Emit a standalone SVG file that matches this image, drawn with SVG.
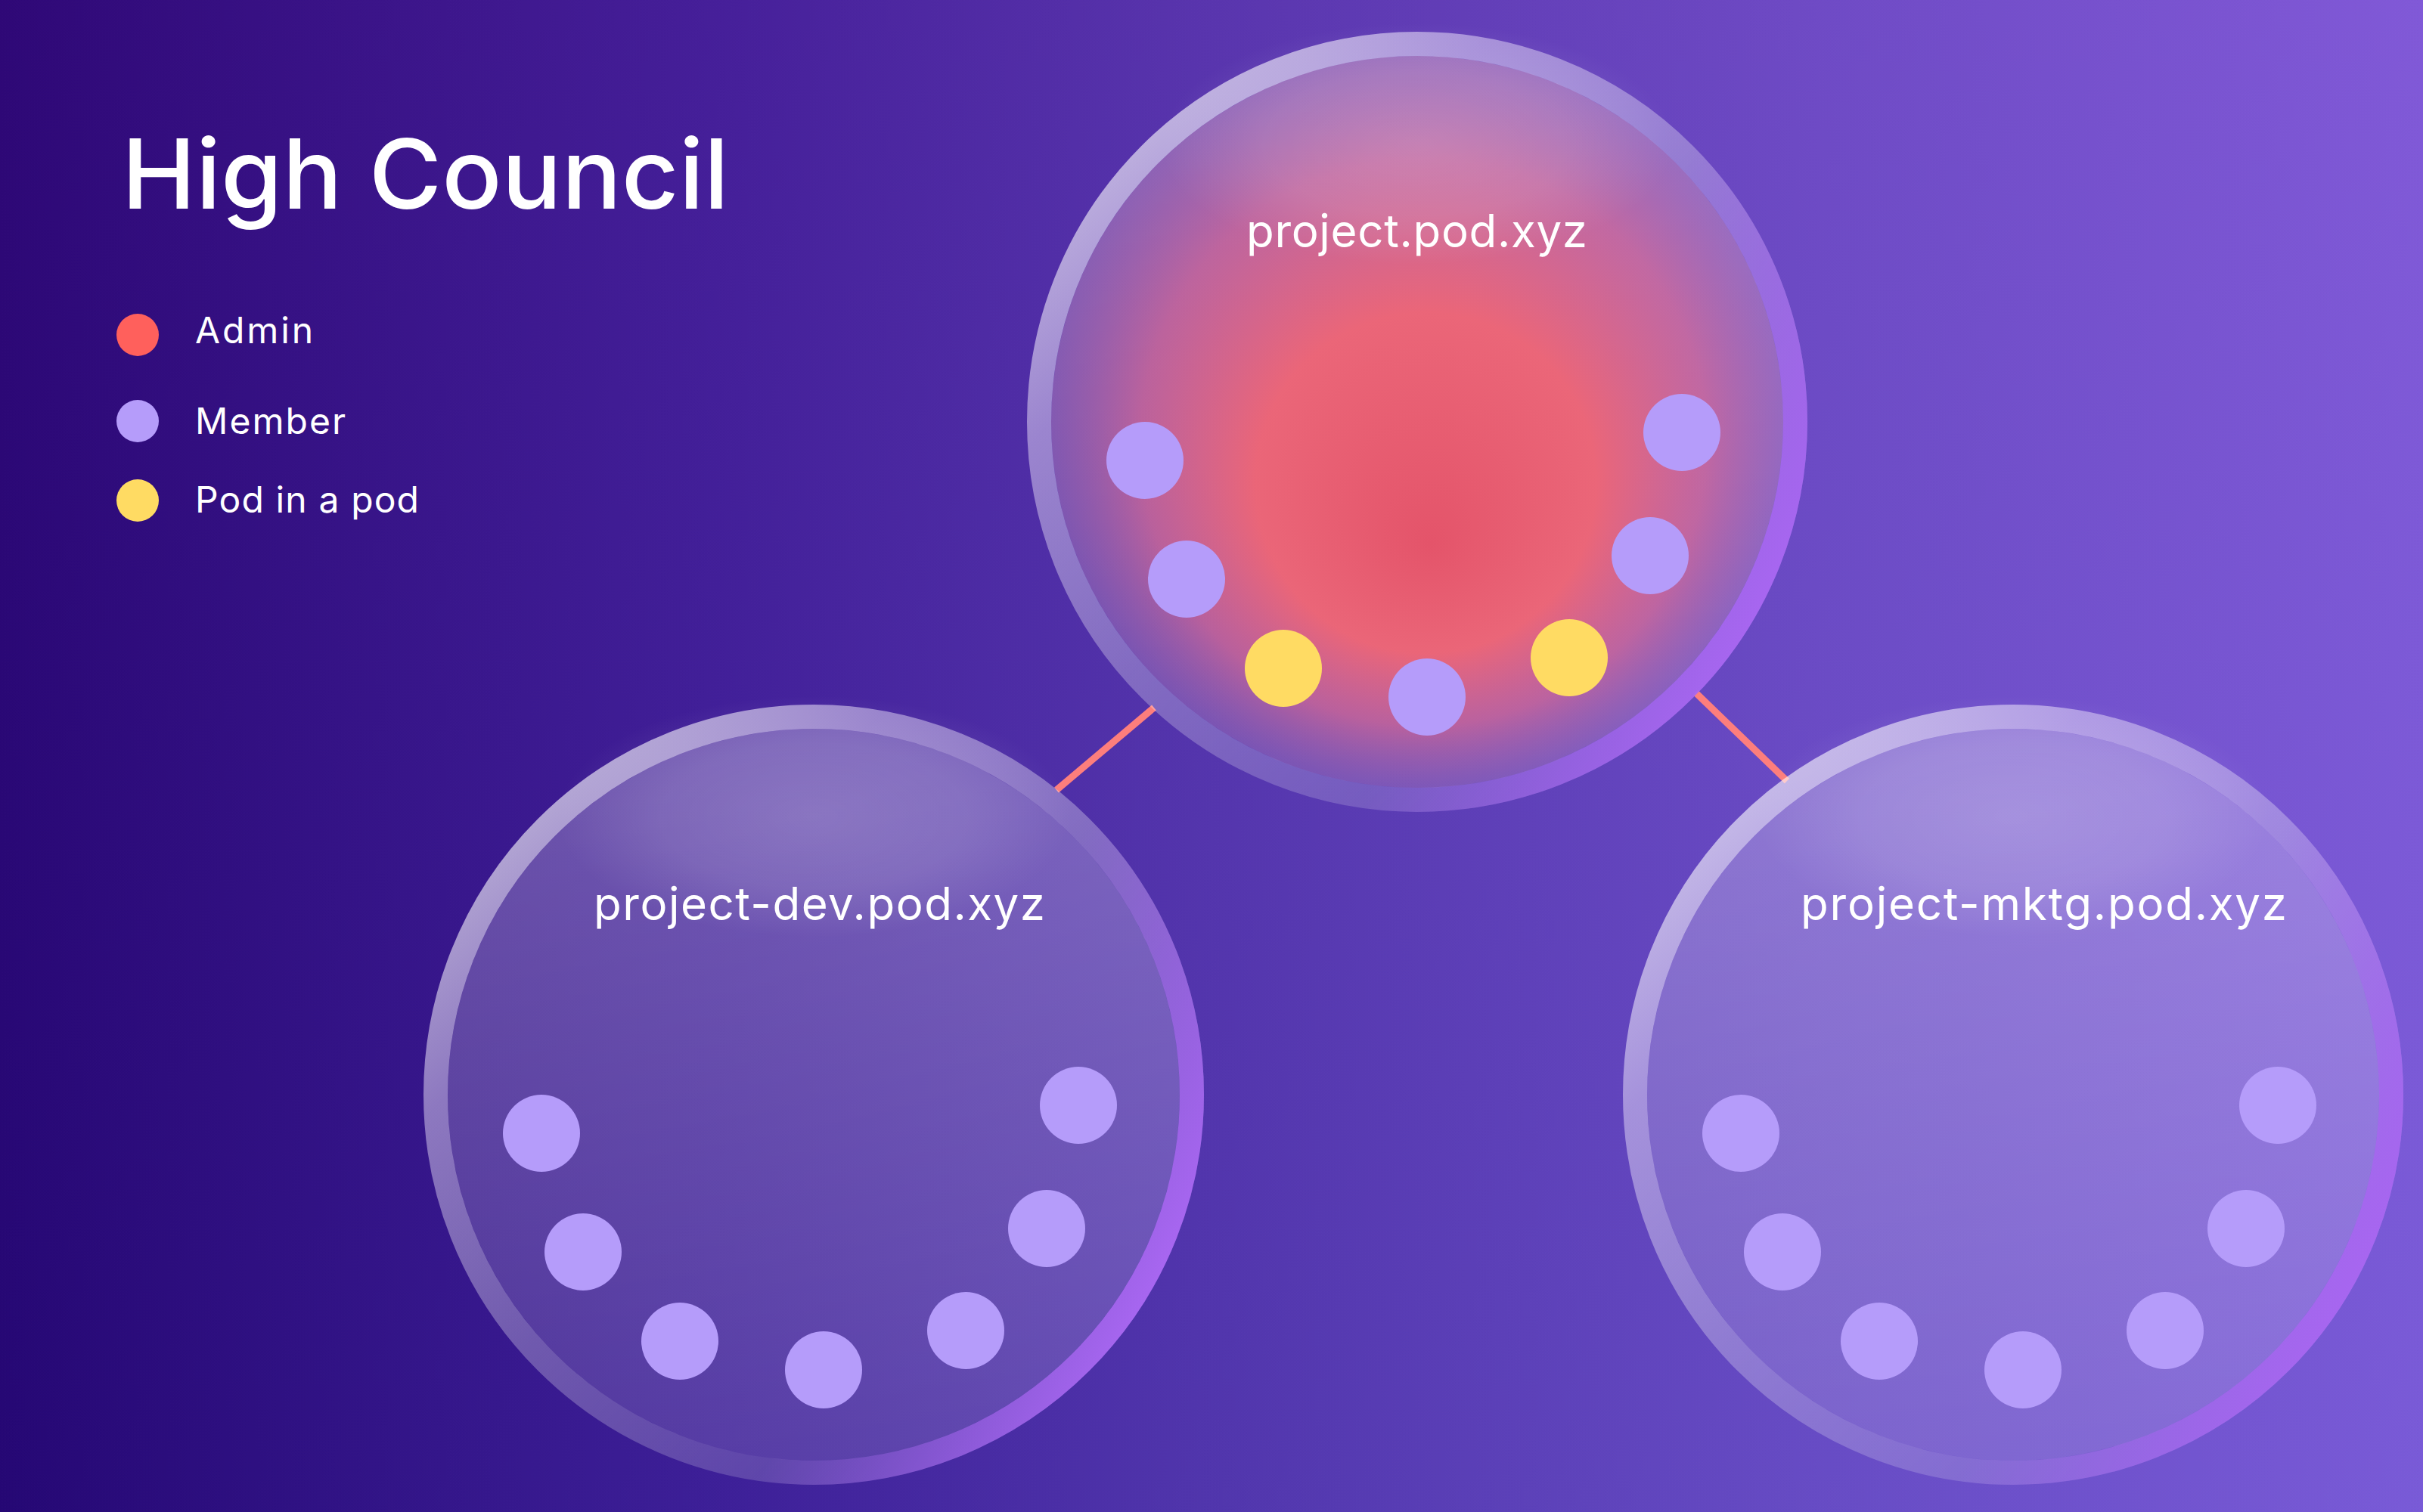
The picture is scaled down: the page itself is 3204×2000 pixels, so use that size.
<svg xmlns="http://www.w3.org/2000/svg" width="3204" height="2000" viewBox="0 0 3204 2000">
  <defs>
    <linearGradient id="bg" x1="0" y1="0" x2="1" y2="0">
      <stop offset="0" stop-color="#23006b"/>
      <stop offset="0.3" stop-color="#3d1a92"/>
      <stop offset="0.5" stop-color="#5232a8"/>
      <stop offset="0.75" stop-color="#6a4ac2"/>
      <stop offset="1" stop-color="#7e5ad6"/>
    </linearGradient>
    <linearGradient id="bgShade" x1="0" y1="0" x2="0" y2="1">
      <stop offset="0" stop-color="#9a50e0" stop-opacity="0.10"/>
      <stop offset="1" stop-color="#4060e0" stop-opacity="0.08"/>
    </linearGradient>
    <linearGradient id="podFill" x1="0" y1="0" x2="0" y2="1">
      <stop offset="0" stop-color="#ffffff" stop-opacity="0.26"/>
      <stop offset="1" stop-color="#ffffff" stop-opacity="0.13"/>
    </linearGradient>
    <radialGradient id="hl" cx="0.5" cy="0.5" r="0.5">
      <stop offset="0" stop-color="#ffffff" stop-opacity="0.17"/>
      <stop offset="0.6" stop-color="#ffffff" stop-opacity="0.11"/>
      <stop offset="1" stop-color="#ffffff" stop-opacity="0"/>
    </radialGradient>
    <radialGradient id="red" gradientUnits="userSpaceOnUse" cx="1880" cy="540" r="500" fx="1890" fy="720">
      <stop offset="0" stop-color="#e4546a"/>
      <stop offset="0.45" stop-color="#ee6676" stop-opacity="0.97"/>
      <stop offset="0.75" stop-color="#e0668c" stop-opacity="0.65"/>
      <stop offset="1" stop-color="#b060a0" stop-opacity="0.22"/>
    </radialGradient>
    <linearGradient id="ringWhite" x1="0.15" y1="0.1" x2="0.85" y2="0.9">
      <stop offset="0" stop-color="#ffffff" stop-opacity="0.62"/>
      <stop offset="0.2" stop-color="#f4ecff" stop-opacity="0.46"/>
      <stop offset="0.5" stop-color="#ffffff" stop-opacity="0.28"/>
      <stop offset="1" stop-color="#ffffff" stop-opacity="0.1"/>
    </linearGradient>
    <linearGradient id="ringPurple" x1="0.3" y1="0.3" x2="1" y2="0.65">
      <stop offset="0" stop-color="#a766f0" stop-opacity="0"/>
      <stop offset="0.55" stop-color="#a766f0" stop-opacity="0"/>
      <stop offset="1" stop-color="#a766f0" stop-opacity="1"/>
    </linearGradient>
  </defs>
  <style>
    .txt { font-family: Inter, "Noto Sans", "Liberation Sans", sans-serif; fill: #ffffff; }
    .title { font-size: 128px; font-weight: 500; }
    .legend { font-size: 48px; font-weight: 400; }
    .label { font-size: 60px; font-weight: 400; }
    .fill { fill: url(#podFill); }
    .hl { fill: url(#hl); }
    .ringW { fill: none; stroke: url(#ringWhite); stroke-width: 32; }
    .ringP { fill: none; stroke: url(#ringPurple); stroke-width: 32; }
    .member { fill: #b59cfa; }
    .pod { fill: #ffdb63; }
    .admin { fill: #ff605c; }
    .conn { stroke: #fd7e7c; stroke-width: 9; fill: none; }
  </style>

  <rect x="0" y="0" width="3204" height="2000" fill="url(#bg)"/>
  <rect x="0" y="0" width="3204" height="2000" fill="url(#bgShade)"/>

  <g id="title">
    <text class="txt title" x="161" y="276" textLength="803" lengthAdjust="spacingAndGlyphs">High Council</text>
  </g>

  <g id="legend">
    <circle class="admin" cx="182" cy="443" r="28"/>
    <text class="txt legend" x="258" y="454" textLength="156" lengthAdjust="spacing">Admin</text>
    <circle class="member" cx="182" cy="557" r="28"/>
    <text class="txt legend" x="258" y="574" textLength="199" lengthAdjust="spacing">Member</text>
    <circle class="pod" cx="182" cy="662" r="28"/>
    <text class="txt legend" x="258" y="678" textLength="296" lengthAdjust="spacing">Pod in a pod</text>
  </g>

  <g id="connectors">
    <line class="conn" x1="1526" y1="936" x2="1397" y2="1045"/>
    <line class="conn" x1="2242" y1="916" x2="2363" y2="1033"/>
  </g>

  <g id="pod-main">
    <circle class="fill" cx="1874" cy="558" r="484"/>
    <circle cx="1874" cy="558" r="484" fill="url(#red)"/>
    <ellipse class="hl" cx="1874" cy="190" rx="340" ry="160"/>
    <circle class="ringW" cx="1874" cy="558" r="500"/>
    <circle class="ringP" cx="1874" cy="558" r="500"/>
    <text class="txt label" x="1648" y="327" textLength="451" lengthAdjust="spacing">project.pod.xyz</text>
    <circle class="member" cx="1514" cy="609" r="51"/>
    <circle class="member" cx="1569" cy="766" r="51"/>
    <circle class="pod" cx="1697" cy="884" r="51"/>
    <circle class="member" cx="1887" cy="922" r="51"/>
    <circle class="pod" cx="2075" cy="870" r="51"/>
    <circle class="member" cx="2182" cy="735" r="51"/>
    <circle class="member" cx="2224" cy="572" r="51"/>
  </g>

  <g id="pod-dev">
    <circle class="fill" cx="1076" cy="1448" r="484"/>
    <ellipse class="hl" cx="1076" cy="1080" rx="340" ry="160"/>
    <circle class="ringW" cx="1076" cy="1448" r="500"/>
    <circle class="ringP" cx="1076" cy="1448" r="500"/>
    <text class="txt label" x="785" y="1217" textLength="597" lengthAdjust="spacing">project-dev.pod.xyz</text>
    <circle class="member" cx="716" cy="1499" r="51"/>
    <circle class="member" cx="771" cy="1656" r="51"/>
    <circle class="member" cx="899" cy="1774" r="51"/>
    <circle class="member" cx="1089" cy="1812" r="51"/>
    <circle class="member" cx="1277" cy="1760" r="51"/>
    <circle class="member" cx="1384" cy="1625" r="51"/>
    <circle class="member" cx="1426" cy="1462" r="51"/>
  </g>

  <g id="pod-mktg">
    <circle class="fill" cx="2662" cy="1448" r="484"/>
    <ellipse class="hl" cx="2662" cy="1080" rx="340" ry="160"/>
    <circle class="ringW" cx="2662" cy="1448" r="500"/>
    <circle class="ringP" cx="2662" cy="1448" r="500"/>
    <text class="txt label" x="2381" y="1217" textLength="643" lengthAdjust="spacing">project-mktg.pod.xyz</text>
    <circle class="member" cx="2302" cy="1499" r="51"/>
    <circle class="member" cx="2357" cy="1656" r="51"/>
    <circle class="member" cx="2485" cy="1774" r="51"/>
    <circle class="member" cx="2675" cy="1812" r="51"/>
    <circle class="member" cx="2863" cy="1760" r="51"/>
    <circle class="member" cx="2970" cy="1625" r="51"/>
    <circle class="member" cx="3012" cy="1462" r="51"/>
  </g>
</svg>
